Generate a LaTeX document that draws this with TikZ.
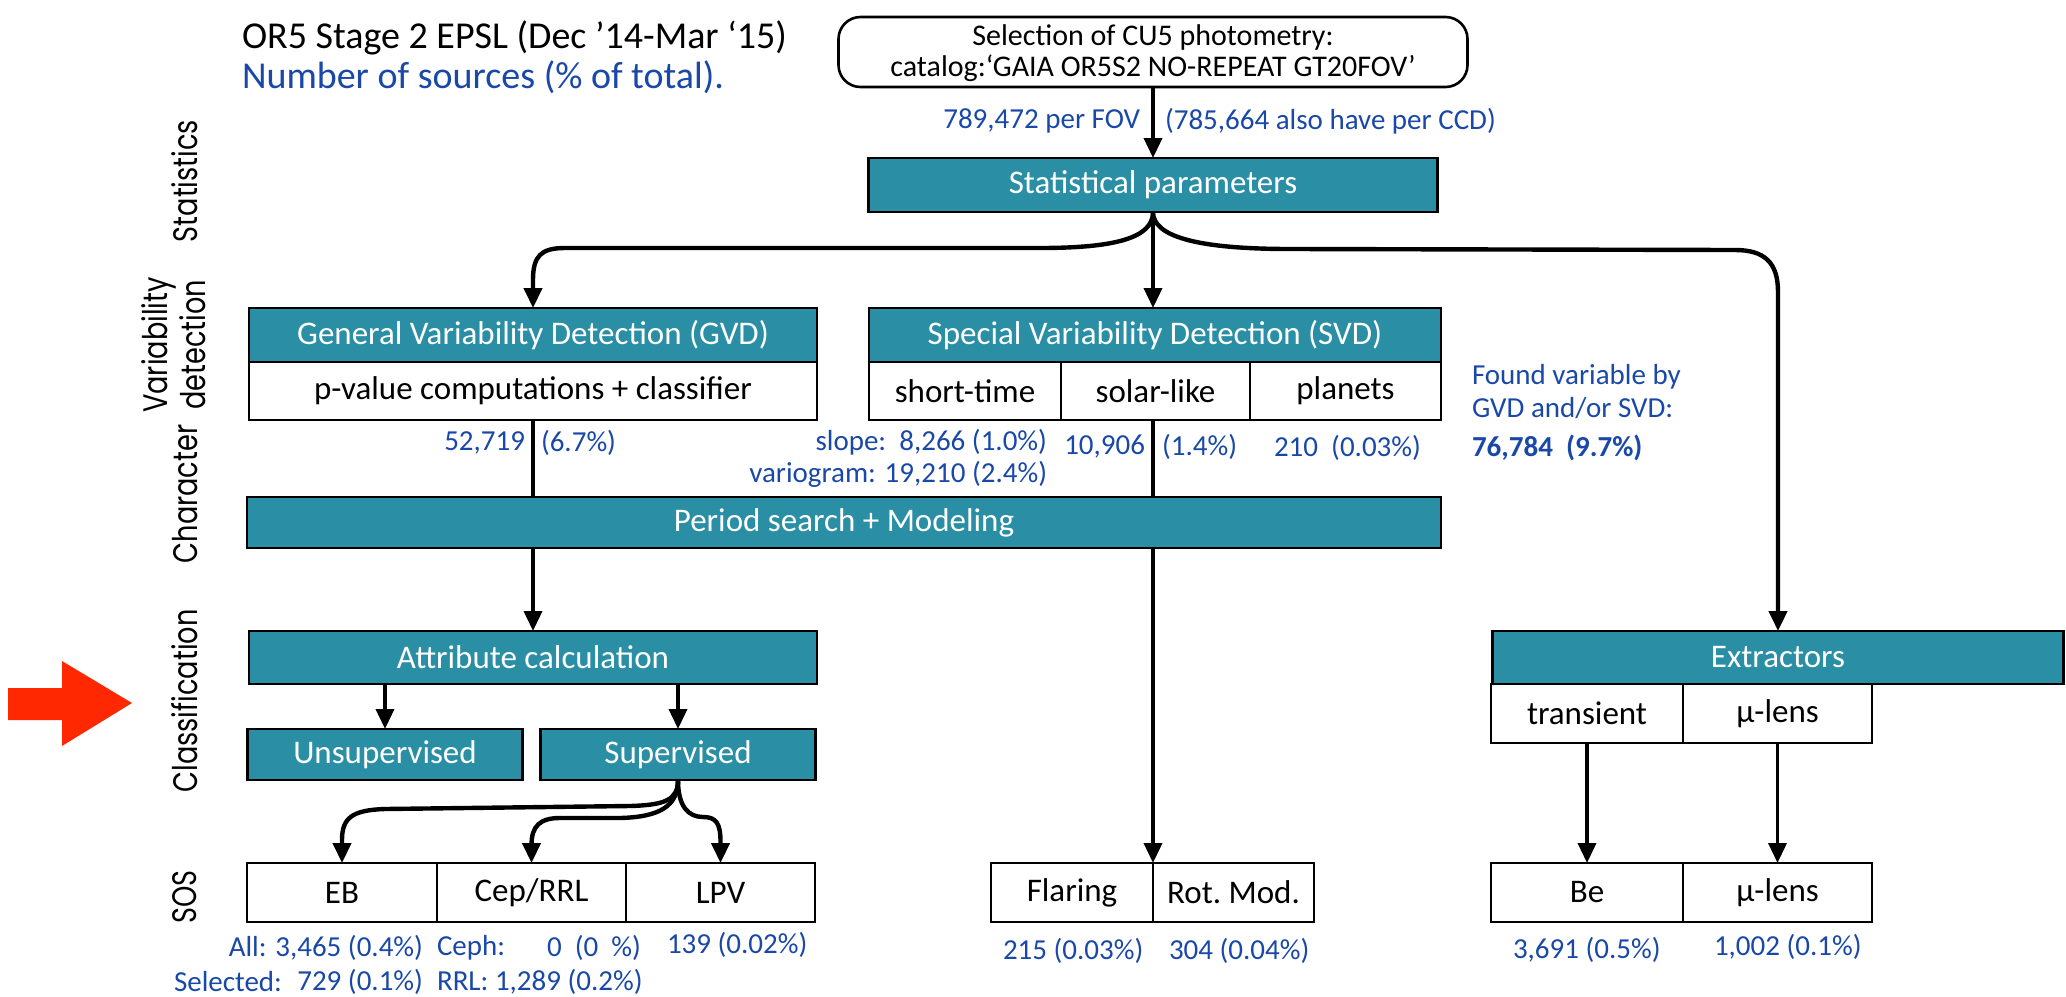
\documentclass[tikz,border=0pt]{standalone}
\usepackage{fontspec}
\setmainfont{Carlito}
\newfontfamily\sidefam[FakeStretch=0.8]{Poppins}
\usetikzlibrary{arrows.meta}
\definecolor{tealbg}{RGB}{42,143,164}
\definecolor{lblblue}{RGB}{25,72,168}
\definecolor{redarrow}{RGB}{255,40,0}
\newcommand\fTitle{\fontsize{19}{23}\selectfont}
\newcommand\fBox{\fontsize{16.5}{20}\selectfont}
\newcommand\fTop{\fontsize{15}{15.5}\selectfont}
\newcommand\fLbl{\fontsize{14.5}{16.5}\selectfont}
\newcommand\fSide{\sidefam\fontsize{17}{19}\selectfont}
\begin{document}
\begin{tikzpicture}[x=0.5pt,y=-0.5pt,
 every node/.style={inner sep=0pt, outer sep=0pt},
 tbox/.style={draw=black, line width=1.3pt, fill=tealbg, text=white, font=\fBox},
 wbox/.style={draw=black, line width=1.3pt, fill=white, text=black, font=\fBox},
 lbl/.style={text=lblblue, font=\fLbl},
 side/.style={rotate=90, font=\fSide, align=center},
 conn/.style={line width=1.8pt, -{Triangle[length=10pt,width=9pt]}},
 link/.style={line width=1.8pt},
 bendy/.style={line width=2.2pt, -{Triangle[length=10pt,width=9pt]}},
]
\useasboundingbox (0,0) rectangle (2066,996);

% titles
\node[anchor=west, font=\fTitle] (title) at (242,38) {OR5 Stage 2 EPSL (Dec ’14-Mar ‘15)};
\node[anchor=west, font=\fTitle, text=lblblue] (subtitle) at (242,77) {Number of sources (\% of total).};

% side labels
\node[side] (sStat) at (185,181) {Statistics};
\node[side] (sVar) at (174,345) {Variability\\detection};
\node[side] (sChar) at (185,494) {Character};
\node[side] (sClass) at (185,701) {Classification};
\node[side] (sSOS) at (185,897) {SOS};

% red arrow
\fill[redarrow] (8,688) -- (62,688) -- (62,661) -- (132,703) -- (62,746) -- (62,720) -- (8,720) -- cycle;

% top box
\node[draw=black, line width=1.3pt, rounded corners=11pt, fill=white,
  minimum width=314.5pt, minimum height=35pt] (top) at (1153,52) {};
\node[font=\fTop, align=center] (topText) at (1153,53)
  {Selection of CU5 photometry:\\catalog:‘GAIA OR5S2 NO-REPEAT GT20FOV’};
\node[lbl, anchor=east] (nfov) at (1140,121) {789,472 per FOV};
\node[lbl, anchor=west] (nccd) at (1165,121) {(785,664 also have per CCD)};

% statistics
\node[tbox, minimum width=284.5pt, minimum height=27pt] (stat) at (1153,185) {Statistical parameters};

% GVD
\node[tbox, minimum width=284pt, minimum height=27pt] (gvdh) at (533,335) {General Variability Detection (GVD)};
\node[wbox, minimum width=284pt, minimum height=29pt] (gvdb) at (533,391) {p-value computations + classifier};

% SVD
\node[tbox, minimum width=286pt, minimum height=27pt] (svdh) at (1155,335) {Special Variability Detection (SVD)};
\node[wbox, minimum width=96pt, minimum height=29pt] (st) at (965,391) {short-time};
\node[wbox, minimum width=94.5pt, minimum height=29pt] (sl) at (1155.5,391) {solar-like};
\node[wbox, minimum width=95.5pt, minimum height=29pt] (pl) at (1345.5,391) {planets};

% labels below detection
\node[lbl, anchor=east] (n1) at (525,443) {52,719};
\node[lbl, anchor=west] (n1p) at (541,443) {(6.7\%)};
\node[lbl, anchor=east] (nslope) at (1047,442) {slope:\ \ 8,266 (1.0\%)};
\node[lbl, anchor=east] (nvario) at (1047,474) {variogram: 19,210 (2.4\%)};
\node[lbl, anchor=east] (nsolar) at (1145,447) {10,906};
\node[lbl, anchor=west] (nsolarp) at (1162,447) {(1.4\%)};
\node[lbl, anchor=west] (nplan) at (1274,448) {210\ \ (0.03\%)};
\node[lbl, anchor=north west, align=left, font=\fontsize{14.5}{16.5}\selectfont] (found) at (1472,364) {Found variable by\\GVD and/or SVD:};
\node[lbl, anchor=west, font=\fLbl\bfseries] (ntot) at (1472,448) {76,784\ \ (9.7\%)};

% period search
\node[tbox, minimum width=597pt, minimum height=25.5pt] (period) at (844,522.5) {Period search + Modeling};

% classification
\node[tbox, minimum width=284pt, minimum height=26.5pt] (attr) at (533,657.5) {Attribute calculation};
\node[tbox, minimum width=137.5pt, minimum height=25.5pt] (unsup) at (385,754.5) {Unsupervised};
\node[tbox, minimum width=137.5pt, minimum height=25.5pt] (sup) at (678,754.5) {Supervised};

% SOS left
\node[wbox, minimum width=95pt, minimum height=29.5pt] (eb) at (342,892.5) {EB};
\node[wbox, minimum width=94.5pt, minimum height=29.5pt] (cep) at (531.5,892.5) {Cep/RRL};
\node[wbox, minimum width=94.5pt, minimum height=29.5pt] (lpv) at (720.5,892.5) {LPV};
\node[lbl, anchor=east] (nall) at (423,948) {All: 3,465 (0.4\%)};
\node[lbl, anchor=west] (nsel) at (174,982) {Selected:};
\node[lbl, anchor=east] (nselv) at (423,982) {729 (0.1\%)};
\node[lbl, anchor=west] (nceph) at (437,948) {Ceph:};
\node[lbl, anchor=east] (ncephv) at (641,948) {0\ \ (0\ \ \%)};
\node[lbl, anchor=west] (nrrl) at (437,982) {RRL: 1,289 (0.2\%)};
\node[lbl, anchor=west] (nlpv) at (667,945) {139 (0.02\%)};

% SOS middle
\node[wbox, minimum width=81pt, minimum height=29.5pt] (flar) at (1072,892.5) {Flaring};
\node[wbox, minimum width=80.5pt, minimum height=29.5pt] (rot) at (1233.5,892.5) {Rot.\ Mod.};
\node[lbl, anchor=west] (nflar) at (1003,951) {215 (0.03\%)};
\node[lbl, anchor=west] (nrot) at (1169,951) {304 (0.04\%)};

% extractors
\node[tbox, minimum width=285.5pt, minimum height=26.5pt] (extr) at (1778,657.5) {Extractors};
\node[wbox, minimum width=96pt, minimum height=29.5pt] (trans) at (1587,713.5) {transient};
\node[wbox, minimum width=94.5pt, minimum height=29.5pt] (mul1) at (1777.5,713.5) {μ-lens};
\node[wbox, minimum width=96pt, minimum height=29.5pt] (be) at (1587,892.5) {Be};
\node[wbox, minimum width=94.5pt, minimum height=29.5pt] (mul2) at (1777.5,892.5) {μ-lens};
\node[lbl, anchor=west] (nbe) at (1513,950) {3,691 (0.5\%)};
\node[lbl, anchor=west] (nmul) at (1714,947) {1,002 (0.1\%)};

% connectors
\draw[conn] (top.south) -- (stat.north);
\draw[bendy] (stat.south) .. controls (1153,238) and (1115,248) .. (1040,248) -- (565,248)
   .. controls (541,248) and (533,256) .. (533,280) -- (gvdh.north);
\draw[conn] (stat.south) -- (stat.south |- svdh.north);
\draw[bendy] (stat.south) .. controls (1153,236) and (1195,249) .. (1290,249) -- (1735,250)
   .. controls (1764,250) and (1778,262) .. (1778,292) -- (extr.north);
\draw[link] (gvdb.south) -- (gvdb.south |- period.north);
\draw[link] (stat.south |- sl.south) -- (stat.south |- period.north);
\draw[conn] (stat.south |- period.south) -- (stat.south |- flar.north);
\draw[conn] (gvdb.south |- period.south) -- (attr.north);
\draw[conn] (unsup.north |- attr.south) -- (unsup.north);
\draw[conn] (sup.north |- attr.south) -- (sup.north);
\draw[bendy] (sup.south) .. controls (678,800) and (665,805) .. (630,806) -- (385,809)
   .. controls (352,810) and (342,818) .. (342,840) -- (eb.north);
\draw[bendy] (sup.south) .. controls (678,806) and (660,817) .. (620,818) -- (560,818)
   .. controls (540,818) and (531.5,826) .. (531.5,845) -- (cep.north);
\draw[bendy] (sup.south) .. controls (678,806) and (688,817) .. (703,817)
   .. controls (716,817) and (720.5,823) .. (720.5,842) -- (lpv.north);
\draw[conn] (trans.south) -- (be.north);
\draw[conn] (mul1.south) -- (mul2.north);
\end{tikzpicture}
\end{document}
